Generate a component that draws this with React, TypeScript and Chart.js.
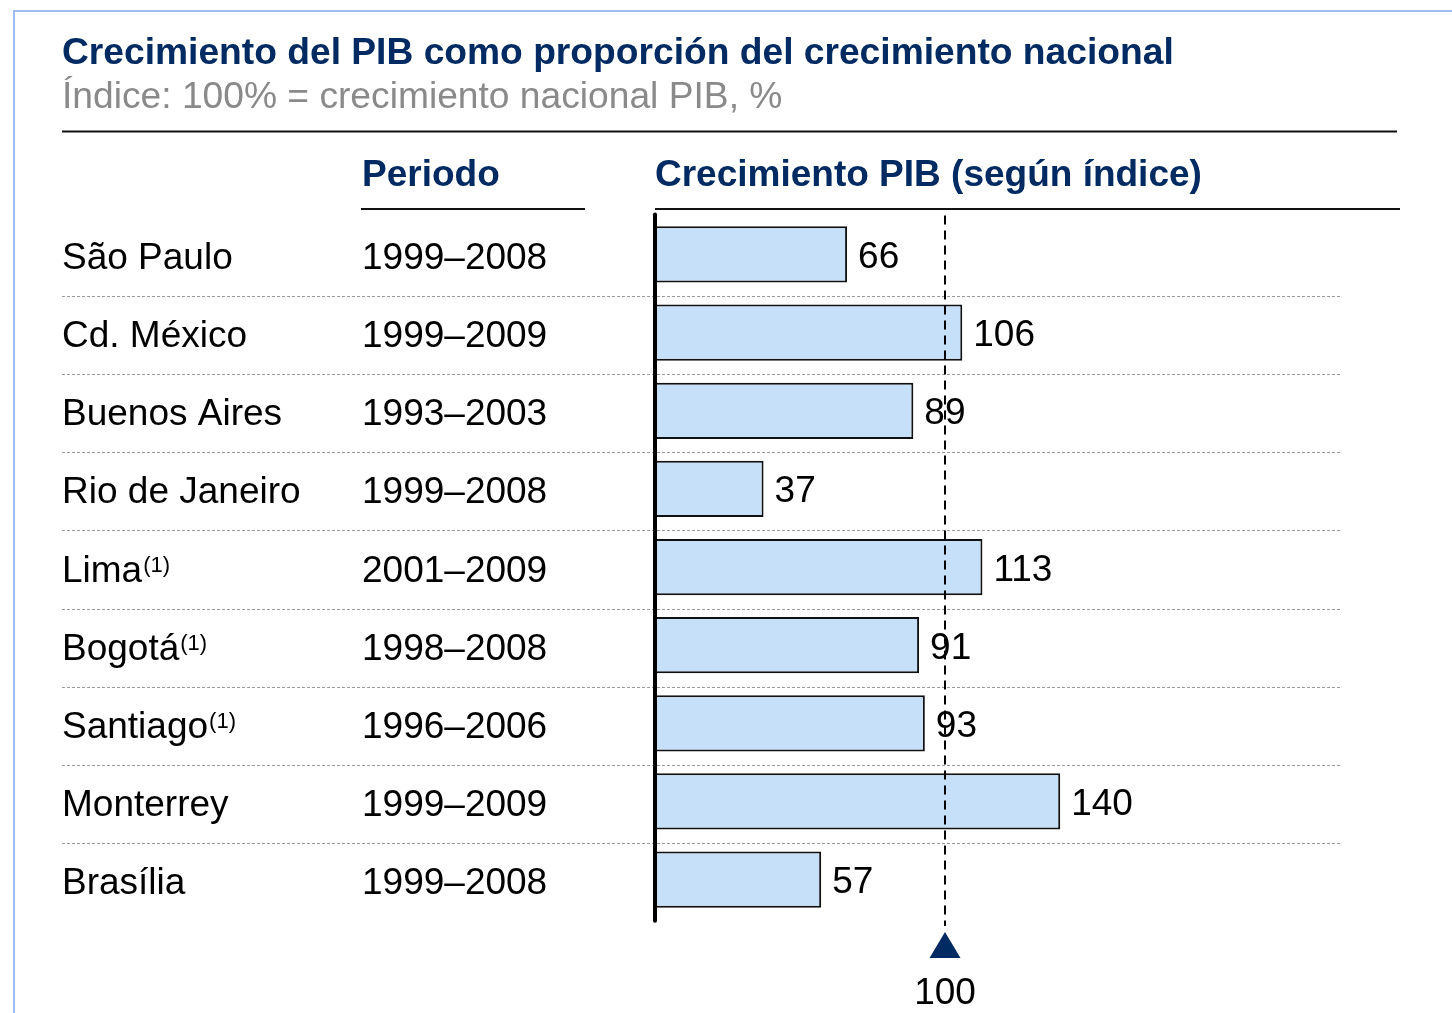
import React, { useEffect, useRef } from "react";
import { Chart, registerables } from "chart.js";

Chart.register(...registerables);

const TITLE = "Crecimiento del PIB como proporción del crecimiento nacional";
const SUBTITLE = "Índice: 100% = crecimiento nacional PIB, %";
const HEADER_PERIOD = "Periodo";
const HEADER_GROWTH = "Crecimiento PIB (según índice)";

const cities = [
  "São Paulo",
  "Cd. México",
  "Buenos Aires",
  "Rio de Janeiro",
  "Lima",
  "Bogotá",
  "Santiago",
  "Monterrey",
  "Brasília",
];
const footnotes = ["", "", "", "", "(1)", "(1)", "(1)", "", ""];
const periods = [
  "1999–2008",
  "1999–2009",
  "1993–2003",
  "1999–2008",
  "2001–2009",
  "1998–2008",
  "1996–2006",
  "1999–2009",
  "1999–2008",
];
const growthIndex = [66, 106, 89, 37, 113, 91, 93, 140, 57];
const referenceValue = 100;
const referenceLabel = "100";

const FONT = '"Liberation Sans", Arial, Helvetica, sans-serif';
const NAVY = "#002A62";

export default function App() {
  const ref = useRef<HTMLCanvasElement | null>(null);

  useEffect(() => {
    if (!ref.current) return;
    const decor = {
      id: "decor",
      beforeDatasetsDraw(chart: any) {
        const ctx = chart.ctx as CanvasRenderingContext2D;
        const y = chart.scales.y;
        ctx.save();
        // frame
        ctx.strokeStyle = "#9FBDF4";
        ctx.lineWidth = 2;
        ctx.beginPath();
        ctx.moveTo(14, 1013);
        ctx.lineTo(14, 11);
        ctx.lineTo(1452, 11);
        ctx.stroke();

        // title
        ctx.fillStyle = NAVY;
        ctx.font = `bold 37.2px ${FONT}`;
        ctx.textBaseline = "alphabetic";
        ctx.textAlign = "left";
        ctx.fillText(TITLE, 62, 64);
        ctx.fillStyle = "#8A8A8A";
        ctx.font = `37.2px ${FONT}`;
        ctx.fillText(SUBTITLE, 62, 108);

        // top rule
        ctx.strokeStyle = "#111";
        ctx.lineWidth = 2;
        ctx.beginPath();
        ctx.moveTo(62, 131.5);
        ctx.lineTo(1397, 131.5);
        ctx.stroke();

        // headers
        ctx.fillStyle = NAVY;
        ctx.font = `bold 37px ${FONT}`;
        ctx.fillText(HEADER_PERIOD, 362, 186);
        ctx.fillText(HEADER_GROWTH, 655, 186);
        ctx.beginPath();
        ctx.moveTo(361, 209);
        ctx.lineTo(585, 209);
        ctx.moveTo(655, 209);
        ctx.lineTo(1400, 209);
        ctx.stroke();

        // separators
        ctx.strokeStyle = "#9A9A9A";
        ctx.lineWidth = 1;
        ctx.setLineDash([3, 2]);
        for (let i = 0; i < cities.length - 1; i++) {
          const py = Math.round(y.getPixelForValue(i) + 41.5) + 0.5;
          ctx.beginPath();
          ctx.moveTo(62, py);
          ctx.lineTo(1341, py);
          ctx.stroke();
        }
        ctx.setLineDash([]);

        // row labels
        for (let i = 0; i < cities.length; i++) {
          const cy = y.getPixelForValue(i);
          ctx.fillStyle = "#000";
          ctx.font = `37px ${FONT}`;
          ctx.fillText(cities[i], 62, cy + 14.5);
          if (footnotes[i]) {
            const w = ctx.measureText(cities[i]).width;
            ctx.font = `22px ${FONT}`;
            ctx.fillText(footnotes[i], 62 + w + 1, cy + 5);
            ctx.font = `37px ${FONT}`;
          }
          ctx.fillText(periods[i], 362, cy + 14.5);
        }
        ctx.restore();
      },
      afterDatasetsDraw(chart: any) {
        const ctx = chart.ctx as CanvasRenderingContext2D;
        const x = chart.scales.x;
        const y = chart.scales.y;
        const area = chart.chartArea;
        ctx.save();
        // reference dashed line
        const rx = Math.round(x.getPixelForValue(referenceValue));
        ctx.strokeStyle = "#000";
        ctx.lineWidth = 2;
        ctx.setLineDash([9, 6]);
        ctx.beginPath();
        ctx.moveTo(rx, area.top);
        ctx.lineTo(rx, 926);
        ctx.stroke();
        ctx.setLineDash([]);
        // value labels
        ctx.fillStyle = "#000";
        ctx.font = `37px ${FONT}`;
        ctx.textAlign = "left";
        ctx.textBaseline = "alphabetic";
        for (let i = 0; i < growthIndex.length; i++) {
          const px = x.getPixelForValue(growthIndex[i]);
          const cy = y.getPixelForValue(i);
          ctx.fillText(String(growthIndex[i]), px + 11, cy + 13.5);
        }
        // triangle
        ctx.fillStyle = NAVY;
        ctx.beginPath();
        ctx.moveTo(rx, 932);
        ctx.lineTo(rx + 15.5, 958);
        ctx.lineTo(rx - 15.5, 958);
        ctx.closePath();
        ctx.fill();
        ctx.fillStyle = "#000";
        ctx.textAlign = "center";
        ctx.fillText(referenceLabel, rx, 1004);
        // axis line
        ctx.strokeStyle = "#000";
        ctx.lineWidth = 4;
        ctx.lineCap = "round";
        ctx.beginPath();
        ctx.moveTo(655, area.top - 1);
        ctx.lineTo(655, area.bottom + 2);
        ctx.stroke();
        ctx.restore();
      },
    };

    const chart = new Chart(ref.current, {
      type: "bar",
      data: {
        labels: cities,
        datasets: [
          {
            data: growthIndex,
            backgroundColor: "#C7E0F9",
            borderColor: "#111111",
            borderWidth: 2,
            borderSkipped: "start",
            categoryPercentage: 1,
            barPercentage: 0.72,
          },
        ],
      },
      options: {
        indexAxis: "y",
        responsive: false,
        animation: false,
        maintainAspectRatio: false,
        layout: {
          padding: { left: 657, right: 75, top: 215.4, bottom: 94.3 },
        },
        plugins: {
          legend: { display: false },
          tooltip: { enabled: false },
          title: { display: false },
        },
        scales: {
          x: { display: false, min: 0, max: 250 },
          y: { display: false },
        },
      },
      plugins: [decor],
    });
    return () => chart.destroy();
  }, []);

  return (
    <div style={{ position: "absolute", left: 0, top: 0, width: 1452, height: 1013, background: "#fff" }}>
      <canvas ref={ref} width={1452} height={1013} style={{ display: "block" }} />
    </div>
  );
}
